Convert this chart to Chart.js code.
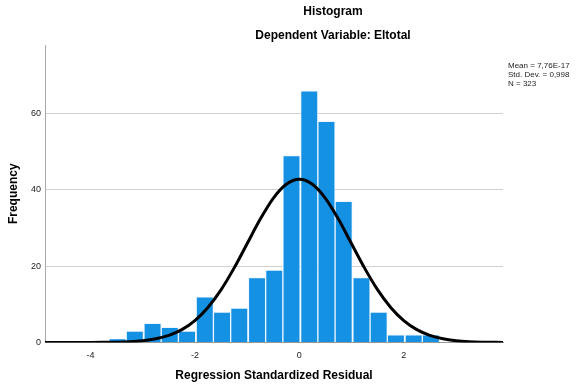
<!DOCTYPE html>
<html>
<head>
<meta charset="utf-8">
<script src="https://cdn.jsdelivr.net/npm/chart.js@4"></script>
<style>
  html, body { margin: 0; padding: 0; background: #fff; }
  #wrap { width: 576px; height: 389px; }
</style>
</head>
<body>
<div id="wrap"><canvas id="hist" width="576" height="389"></canvas></div>
<script>
// bin centres (standardized residual) and counts
const binCenters = [-3.48, -3.15, -2.81, -2.48, -2.15, -1.81, -1.48, -1.15, -0.81, -0.48,
                    -0.15, 0.19, 0.52, 0.85, 1.19, 1.52, 1.85, 2.19, 2.52];
const binCounts = [1, 3, 5, 4, 3, 12, 8, 9, 17, 19, 49, 66, 58, 37, 17, 8, 2, 2, 2];

// normal curve as drawn, read at steps of 0.25
const curveX = [-5, -4.75, -4.5, -4.25, -4, -3.75, -3.5, -3.25, -3, -2.75, -2.5, -2.25, -2, -1.75,
                -1.5, -1.25, -1, -0.75, -0.5, -0.25, 0, 0.25, 0.5, 0.75, 1, 1.25, 1.5, 1.75,
                2, 2.25, 2.5, 2.75, 3, 3.25, 3.5, 3.75, 4];
const curveY = [0, 0, 0, 0.003, 0.013, 0.04, 0.09, 0.21, 0.47, 0.96, 1.86, 3.37, 5.75, 9.2,
                13.8, 19.5, 25.9, 32.3, 37.8, 41.5, 42.8, 41.5, 37.8, 32.3, 25.9, 19.5, 13.8, 9.2,
                5.75, 3.37, 1.86, 0.96, 0.47, 0.21, 0.09, 0.04, 0.013];

const xTicks = [-4, -2, 0, 2];
const yTicks = [0, 20, 40, 60];
const statsLines = ['Mean = 7,76E-17', 'Std. Dev. = 0,998', 'N = 323'];
const titleLines = ['Histogram', 'Dependent Variable: Eltotal'];

const FONT = '"Liberation Sans", Arial, sans-serif';

const textPlugin = {
  id: 'spssText',
  afterDraw(chart) {
    const ctx = chart.ctx;
    ctx.save();
    ctx.fillStyle = '#000';
    ctx.font = 'bold 12px ' + FONT;
    ctx.textAlign = 'center';
    ctx.textBaseline = 'middle';
    ctx.fillText(titleLines[0], 333, 12);
    ctx.fillText(titleLines[1], 333, 36);

    ctx.font = '8px ' + FONT;
    ctx.textAlign = 'left';
    ctx.fillStyle = '#222';
    statsLines.forEach((s, i) => ctx.fillText(s, 508, 66 + i * 9));
    ctx.restore();
  }
};

const canvas = document.getElementById('hist');

new Chart(canvas, {
  type: 'bar',
  data: {
    datasets: [
      {
        type: 'line',
        data: curveX.map((x, i) => ({ x: x, y: curveY[i] })),
        borderColor: '#000',
        borderWidth: 3,
        pointRadius: 0,
        cubicInterpolationMode: 'monotone',
        fill: false,
        order: 0
      },
      {
        type: 'bar',
        data: binCenters.map((x, i) => ({ x: x, y: binCounts[i] })),
        backgroundColor: '#1591E4',
        borderColor: 'rgba(235,245,255,0.85)',
        borderWidth: 1,
        barPercentage: 1,
        categoryPercentage: 1,
        order: 1
      }
    ]
  },
  options: {
    responsive: false,
    animation: false,
    layout: { padding: { left: 0, top: 45, right: 73, bottom: 0 } },
    plugins: {
      legend: { display: false },
      tooltip: { enabled: false }
    },
    scales: {
      x: {
        type: 'linear',
        offset: false,
        min: -4.87,
        max: 3.9,
        afterBuildTicks: (s) => { s.ticks = xTicks.map(v => ({ value: v })); },
        afterFit: (s) => { s.height = 46.5; },
        grid: { display: false, drawTicks: false },
        border: { display: true, color: '#999', width: 1 },
        ticks: { padding: 8, color: '#222', font: { family: FONT, size: 9 } },
        title: {
          display: true,
          text: 'Regression Standardized Residual',
          color: '#000',
          font: { family: FONT, size: 12, weight: 'bold' },
          padding: { top: 0, bottom: 6 }
        }
      },
      y: {
        min: 0,
        max: 78,
        afterBuildTicks: (s) => { s.ticks = yTicks.map(v => ({ value: v })); },
        afterFit: (s) => { s.width = 45; },
        grid: { color: '#cfcfcf', lineWidth: 1, drawTicks: false },
        border: { display: true, color: '#a8a8a8', width: 1 },
        ticks: { padding: 4, color: '#222', font: { family: FONT, size: 9 } },
        title: {
          display: true,
          text: 'Frequency',
          color: '#000',
          font: { family: FONT, size: 12, weight: 'bold' },
          padding: { top: 6, bottom: 0 }
        }
      }
    }
  },
  plugins: [textPlugin]
});
</script>
</body>
</html>
